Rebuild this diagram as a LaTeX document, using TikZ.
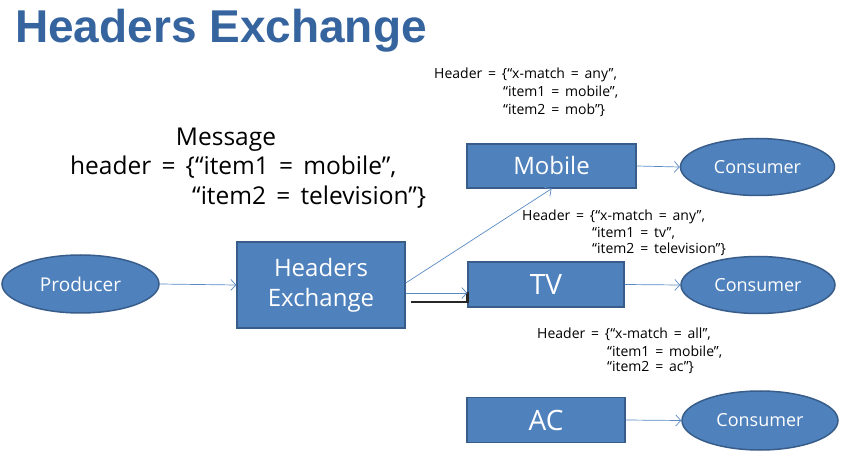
\documentclass[tikz,border=0pt]{standalone}
\usepackage{fontspec}
\setmainfont{Open Sans}
\newfontfamily\titlefont{Liberation Sans}
\newfontfamily\msgfont[WordSpace=1.6]{Open Sans}
\usetikzlibrary{shapes.geometric,arrows.meta}
\definecolor{boxfill}{HTML}{4F81BD}
\definecolor{boxline}{HTML}{385D8A}
\definecolor{arrowc}{HTML}{5A8AC6}
\definecolor{titlec}{HTML}{35649E}
\begin{document}
\begin{tikzpicture}[x=1pt,y=-1pt,
  box/.style={draw=boxline,fill=boxfill,line width=1.5pt,text=white,inner sep=0pt,align=center},
  oval/.style={ellipse,draw=boxline,fill=boxfill,line width=1.5pt,text=white,inner sep=0pt,
    minimum width=154pt,minimum height=57pt,font=\fontsize{18}{20}\selectfont},
  link/.style={draw=arrowc,line width=0.7pt,-{Straight Barb[length=5pt,width=11pt]}},
  lbl/.style={anchor=base west,inner sep=0pt,font=\msgfont\fontsize{14}{16}\selectfont},
  msg/.style={inner sep=0pt,font=\msgfont\fontsize{24.5}{28}\selectfont}]
\useasboundingbox (0,0) rectangle (847,457);
\fill[white] (0,0) rectangle (847,457);

% title
\node[anchor=base west,inner sep=0pt,text=titlec,font=\titlefont\bfseries\fontsize{46}{50}\selectfont] (title) at (15,43) {Headers Exchange};

% nodes
\node[oval,minimum width=157pt,minimum height=58pt,font=\fontsize{19}{21}\selectfont] (prod) at (80.5,284) {Producer};
\node[box,minimum width=168pt,minimum height=86pt,font=\fontsize{24}{30}\selectfont] (ex) at (321,285) {\raisebox{-3pt}{\parbox{160pt}{\centering Headers\\Exchange}}};
\node[box,minimum width=169pt,minimum height=44pt,font=\fontsize{24}{26}\selectfont] (mob) at (551.5,166) {Mobile};
\node[box,minimum width=156pt,minimum height=45pt,font=\fontsize{28}{30}\selectfont] (tv) at (546,284.5) {TV};
\node[box,minimum width=158pt,minimum height=45pt,font=\fontsize{28}{30}\selectfont] (ac) at (546,420) {AC};
\node[oval] (c1) at (757.5,167) {Consumer};
\node[oval] (c2) at (758,285) {Consumer};
\node[oval,minimum width=156pt,minimum height=59pt] (c3) at (760,420.5) {Consumer};

% message text
\node[msg,anchor=base] (m1) at (226,146) {Message};
\node[msg,anchor=base west] (m2) at (70,175) {header = \{“item1 = mobile”,};
\node[msg,anchor=base west] (m3) at (192,205) {“item2 = television”\}};

% header labels
\node[lbl] (h11) at (434,79) {Header = \{“x-match = any”,};
\node[lbl] (h12) at (503,97) {“item1 = mobile”,};
\node[lbl] (h13) at (503,115) {“item2 = mob”\}};

\node[lbl] (h21) at (522,221) {Header = \{“x-match = any”,};
\node[lbl] (h22) at (592,238) {“item1 = tv”,};
\node[lbl] (h23) at (592,254) {“item2 = television”\}};

\node[lbl] (h31) at (537,338) {Header = \{“x-match = all”,};
\node[lbl] (h32) at (607,356) {“item1 = mobile”,};
\node[lbl] (h33) at (607,372) {“item2 = ac”\}};

% connectors
\draw[link] (prod.east) -- (ex.west);
\draw[link] ([yshift=2pt]ex.east) -- (mob.south);
\draw[black!85,line width=2.5pt] ([xshift=5pt,yshift=-17pt]ex.east) -- ([yshift=-17.5pt]tv.west) -- ([yshift=-8pt]tv.west);
\draw[link] ([yshift=-8pt]ex.east) -- ([yshift=-8.5pt]tv.west);
\draw[link] (mob.east) -- (c1.west);
\draw[link] (tv.east) -- (c2.west);
\draw[link] (ac.east) -- (c3.west);
\end{tikzpicture}
\end{document}
